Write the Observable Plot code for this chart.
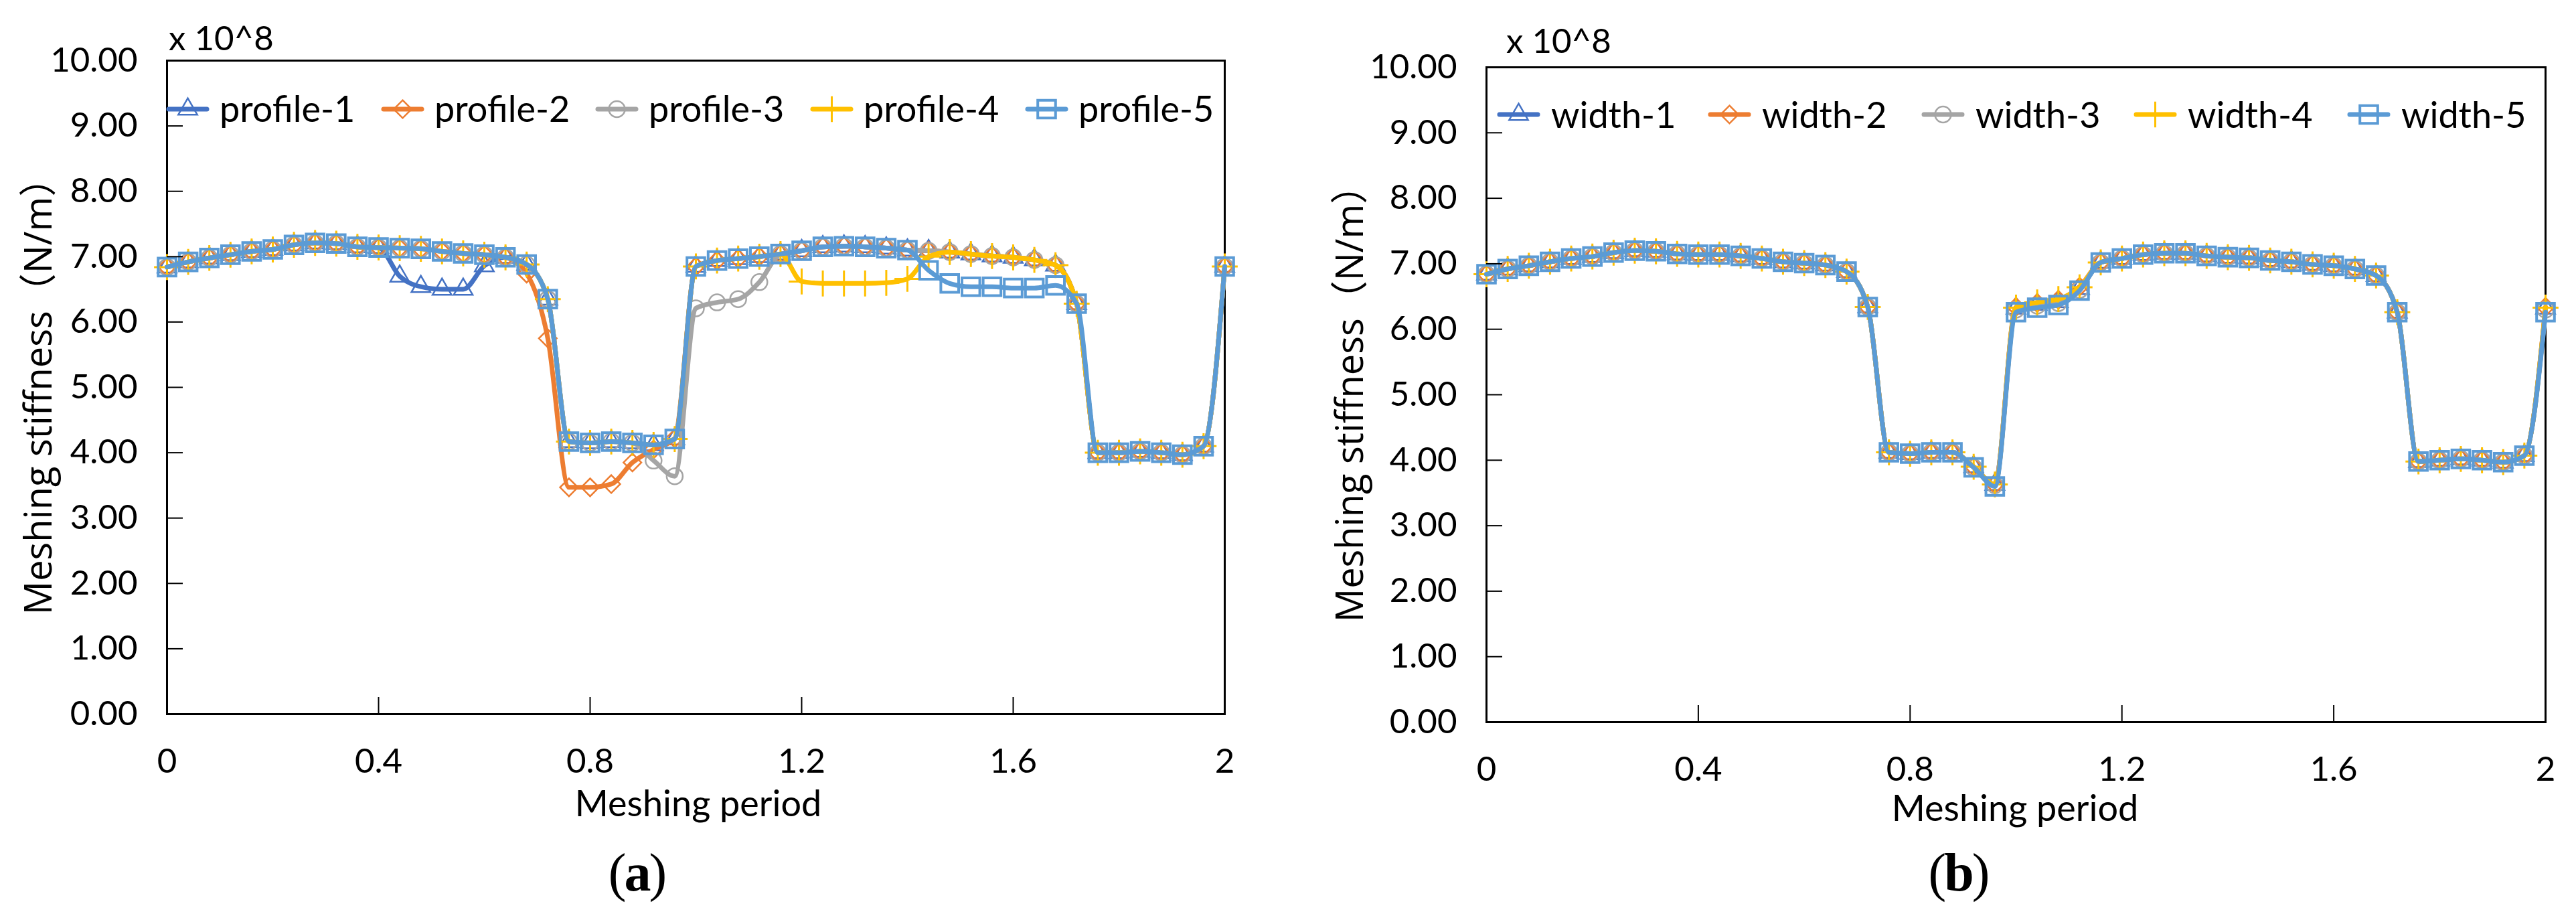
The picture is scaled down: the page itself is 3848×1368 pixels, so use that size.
<!DOCTYPE html>
<html>
<head>
<meta charset="utf-8">
<script src="https://cdn.jsdelivr.net/npm/d3@7"></script>
<script src="https://cdn.jsdelivr.net/npm/@observablehq/plot@0.6"></script>
<style>
html, body { margin: 0; padding: 0; background: #fff; }
#page { position: relative; width: 3848px; height: 1368px; overflow: hidden; background: #fff; }
.t { position: absolute; white-space: nowrap; line-height: 1; color: #000; }
</style>
</head>
<body>
<div id="page"></div>
<script>
// ---------------- data ----------------
const period = [0, 0.04, 0.08, 0.12, 0.16, 0.2, 0.24, 0.28, 0.32, 0.36,
  0.4, 0.44, 0.48, 0.52, 0.56, 0.6, 0.64, 0.68, 0.72, 0.76,
  0.8, 0.84, 0.88, 0.92, 0.96, 1.0, 1.04, 1.08, 1.12, 1.16,
  1.2, 1.24, 1.28, 1.32, 1.36, 1.4, 1.44, 1.48, 1.52, 1.56,
  1.6, 1.64, 1.68, 1.72, 1.76, 1.8, 1.84, 1.88, 1.92, 1.96, 2.0];

const profile1 = [6.84, 6.92, 6.98, 7.03, 7.08, 7.11, 7.18, 7.21, 7.20, 7.15,
  7.14, 6.70, 6.54, 6.50, 6.50, 6.86, 6.99, 6.88, 6.35, 4.17,
  4.15, 4.17, 4.15, 4.12, 4.21, 6.85, 6.94, 6.97, 7.00, 7.04,
  7.09, 7.15, 7.16, 7.15, 7.13, 7.10, 7.09, 7.07, 7.04, 7.01,
  6.99, 6.95, 6.87, 6.28, 4.00, 4.00, 4.02, 4.00, 3.97, 4.10, 6.85];
const profile2 = [6.84, 6.92, 6.98, 7.03, 7.08, 7.11, 7.18, 7.21, 7.20, 7.15,
  7.14, 7.13, 7.12, 7.08, 7.05, 7.03, 6.99, 6.74, 5.75, 3.47,
  3.47, 3.52, 3.85, 4.05, 4.22, 6.85, 6.94, 6.97, 7.00, 7.04,
  7.09, 7.15, 7.16, 7.15, 7.13, 7.10, 7.09, 7.07, 7.04, 7.01,
  6.99, 6.95, 6.87, 6.28, 4.00, 4.00, 4.02, 4.00, 3.97, 4.10, 6.85];
const profile3 = [6.84, 6.92, 6.98, 7.03, 7.08, 7.11, 7.18, 7.21, 7.20, 7.15,
  7.14, 7.13, 7.12, 7.08, 7.05, 7.03, 6.99, 6.88, 6.35, 4.17,
  4.15, 4.17, 4.15, 3.88, 3.64, 6.21, 6.30, 6.35, 6.61, 7.04,
  7.09, 7.15, 7.16, 7.15, 7.13, 7.10, 7.09, 7.07, 7.04, 7.01,
  6.99, 6.95, 6.87, 6.28, 4.00, 4.00, 4.02, 4.00, 3.97, 4.10, 6.85];
const profile4 = [6.84, 6.92, 6.98, 7.03, 7.08, 7.11, 7.18, 7.21, 7.20, 7.15,
  7.14, 7.13, 7.12, 7.08, 7.05, 7.03, 6.99, 6.88, 6.35, 4.17,
  4.15, 4.17, 4.15, 4.12, 4.21, 6.85, 6.94, 6.97, 7.00, 7.04,
  6.62, 6.59, 6.59, 6.59, 6.60, 6.66, 7.00, 7.07, 7.04, 7.01,
  6.99, 6.95, 6.87, 6.28, 4.00, 4.00, 4.02, 4.00, 3.97, 4.10, 6.85];
const profile5 = [6.84, 6.92, 6.98, 7.03, 7.08, 7.11, 7.18, 7.21, 7.20, 7.15,
  7.14, 7.13, 7.12, 7.08, 7.05, 7.03, 6.99, 6.88, 6.35, 4.17,
  4.15, 4.17, 4.15, 4.12, 4.21, 6.85, 6.94, 6.97, 7.00, 7.04,
  7.09, 7.15, 7.16, 7.15, 7.13, 7.10, 6.79, 6.59, 6.54, 6.54,
  6.52, 6.52, 6.56, 6.28, 4.00, 4.00, 4.02, 4.00, 3.97, 4.10, 6.85];

const width1 = [6.84, 6.92, 6.97, 7.03, 7.08, 7.11, 7.17, 7.20, 7.19, 7.15,
  7.14, 7.14, 7.12, 7.08, 7.03, 7.01, 6.98, 6.88, 6.34, 4.12,
  4.10, 4.12, 4.12, 3.90, 3.63, 6.32, 6.38, 6.42, 6.62, 7.02,
  7.08, 7.14, 7.16, 7.16, 7.12, 7.10, 7.09, 7.05, 7.03, 6.99,
  6.97, 6.92, 6.82, 6.26, 3.98, 4.00, 4.02, 4.00, 3.97, 4.07, 6.32];
const width2 = [6.84, 6.92, 6.97, 7.03, 7.08, 7.11, 7.17, 7.20, 7.19, 7.15,
  7.14, 7.14, 7.12, 7.08, 7.03, 7.01, 6.98, 6.88, 6.34, 4.12,
  4.10, 4.12, 4.12, 3.90, 3.63, 6.34, 6.40, 6.45, 6.65, 7.02,
  7.08, 7.14, 7.16, 7.16, 7.12, 7.10, 7.09, 7.05, 7.03, 6.99,
  6.97, 6.92, 6.82, 6.26, 3.98, 4.00, 4.02, 4.00, 3.97, 4.07, 6.34];
const width3 = [6.84, 6.92, 6.97, 7.03, 7.08, 7.11, 7.17, 7.20, 7.19, 7.15,
  7.14, 7.14, 7.12, 7.08, 7.03, 7.01, 6.98, 6.88, 6.34, 4.12,
  4.10, 4.12, 4.12, 3.89, 3.62, 6.30, 6.36, 6.40, 6.60, 7.02,
  7.08, 7.14, 7.16, 7.16, 7.12, 7.10, 7.09, 7.05, 7.03, 6.99,
  6.97, 6.92, 6.82, 6.26, 3.98, 4.00, 4.02, 4.00, 3.97, 4.07, 6.30];
const width4 = [6.84, 6.92, 6.97, 7.03, 7.08, 7.11, 7.17, 7.20, 7.19, 7.15,
  7.14, 7.14, 7.12, 7.08, 7.03, 7.01, 6.98, 6.88, 6.34, 4.12,
  4.10, 4.12, 4.12, 3.90, 3.63, 6.33, 6.41, 6.46, 6.64, 7.02,
  7.08, 7.14, 7.16, 7.16, 7.12, 7.10, 7.09, 7.05, 7.03, 6.99,
  6.97, 6.92, 6.82, 6.26, 3.98, 4.00, 4.02, 4.00, 3.97, 4.07, 6.33];
const width5 = [6.84, 6.92, 6.97, 7.03, 7.08, 7.11, 7.17, 7.20, 7.19, 7.15,
  7.14, 7.14, 7.12, 7.08, 7.03, 7.01, 6.98, 6.88, 6.34, 4.12,
  4.10, 4.12, 4.12, 3.89, 3.60, 6.26, 6.33, 6.37, 6.59, 7.02,
  7.08, 7.14, 7.16, 7.16, 7.12, 7.10, 7.09, 7.05, 7.03, 6.99,
  6.97, 6.92, 6.82, 6.26, 3.98, 4.00, 4.02, 4.00, 3.97, 4.07, 6.26];

const profileNames = ["profile-1", "profile-2", "profile-3", "profile-4", "profile-5"];
const widthNames = ["width-1", "width-2", "width-3", "width-4", "width-5"];

const yTicks = [0, 1, 2, 3, 4, 5, 6, 7, 8, 9, 10];
const yTickLabels = ["0.00", "1.00", "2.00", "3.00", "4.00", "5.00", "6.00", "7.00", "8.00", "9.00", "10.00"];
const yInnerTicks = [1, 2, 3, 4, 5, 6, 7, 8, 9];
const xTicks = [0, 0.4, 0.8, 1.2, 1.6, 2];
const xTickLabels = ["0", "0.4", "0.8", "1.2", "1.6", "2"];
const xInnerTicks = [0.4, 0.8, 1.2, 1.6];

const yLabel = "Meshing stiffness（N/m）";
const xLabel = "Meshing period";
const scaleNote = "x 10^8";

// ---------------- styles ----------------
const seriesStyle = [
  {color: "#4472C4", symbol: "triangle", r: 10.5, sw: 2.5},
  {color: "#ED7D31", symbol: "diamond2", r: 12, sw: 2.5},
  {color: "#A5A5A5", symbol: "circle", r: 12, sw: 2.5},
  {color: "#FFC000", symbol: "plus", r: 12.5, sw: 3},
  {color: "#5B9BD5", symbol: "square", r: 15, sw: 4}
];
const d3Symbols = {triangle: d3.symbolTriangle, diamond2: d3.symbolDiamond2, circle: d3.symbolCircle, plus: d3.symbolPlus, square: d3.symbolSquare};

const page = document.getElementById("page");

function makePanel(valuesList, cfg) {
  const marks = [Plot.frame({stroke: "black", strokeWidth: 3})];
  valuesList.forEach((vals, k) => {
    const st = seriesStyle[k];
    const rows = period.map((x, i) => ({x, y: vals[i]}));
    marks.push(Plot.line(rows, {x: "x", y: "y", stroke: st.color, strokeWidth: 7, curve: "monotone-x", strokeLinejoin: "round"}));
    marks.push(Plot.dot(rows, {x: "x", y: "y", symbol: st.symbol, r: st.r, stroke: st.color, strokeWidth: st.sw, fill: "none"}));
  });
  marks.push(Plot.axisY({ticks: yTicks, tickSize: 0, tickPadding: 44, fontSize: 51,
    tickFormat: d => yTickLabels[yTicks.indexOf(d)], label: null}));
  marks.push(Plot.axisY({ticks: yInnerTicks, tickSize: 24, dx: 24, strokeWidth: 2,
    tickFormat: () => "", label: null}));
  marks.push(Plot.axisX({ticks: xTicks, tickSize: 0, tickPadding: 51, fontSize: 51,
    tickFormat: d => xTickLabels[xTicks.indexOf(d)], label: null}));
  marks.push(Plot.axisX({ticks: xInnerTicks, tickSize: 25, dy: -25, strokeWidth: 2,
    tickFormat: () => "", label: null}));
  const svg = Plot.plot({
    width: cfg.width, height: cfg.height,
    marginLeft: cfg.ml, marginRight: cfg.mr, marginTop: cfg.mt, marginBottom: cfg.mb,
    x: {domain: [0, 2], label: null},
    y: {domain: [0, 10], label: null},
    style: {fontFamily: "Lato, sans-serif", color: "black", background: "transparent", overflow: "visible"},
    marks
  });
  svg.style.position = "absolute";
  svg.style.left = cfg.left + "px";
  svg.style.top = "0px";
  page.appendChild(svg);
}

function addText(str, o) {
  const d = document.createElement("div");
  d.className = "t";
  d.textContent = str;
  d.style.fontFamily = o.family || "Lato, sans-serif";
  d.style.fontSize = o.size + "px";
  if (o.weight) d.style.fontWeight = o.weight;
  const asc = o.asc || 0.887;
  d.style.top = (o.baseline - asc * o.size) + "px";
  d.style.left = o.left + "px";
  if (o.center) d.style.transform = "translateX(-50%)";
  page.appendChild(d);
  return d;
}

function addYLabel(cx, cy) {
  const d = document.createElement("div");
  d.className = "t";
  d.textContent = yLabel;
  d.style.fontFamily = "'Open Sans', 'Noto Sans CJK SC', sans-serif";
  d.style.fontSize = "56px";
  d.style.left = cx + "px";
  d.style.top = cy + "px";
  d.style.transform = "translate(-50%, -50%) rotate(-90deg)";
  page.appendChild(d);
}

function addCaption(letter, cx, baseline) {
  const d = document.createElement("div");
  d.className = "t";
  d.style.fontFamily = "'Liberation Serif', 'Times New Roman', serif";
  d.style.fontSize = "80px";
  d.style.top = (baseline - 0.838 * 80) + "px";
  d.style.left = cx + "px";
  d.style.transform = "translateX(-50%)";
  d.style.letterSpacing = "-3px";
  d.innerHTML = "(<b>" + letter + "</b>)";
  page.appendChild(d);
}

function addLegend(names, starts, textOffset, lineY, baseline) {
  names.forEach((name, k) => {
    const st = seriesStyle[k];
    const ns = "http://www.w3.org/2000/svg";
    const s = document.createElementNS(ns, "svg");
    s.setAttribute("width", 58); s.setAttribute("height", 44);
    s.style.position = "absolute";
    s.style.left = starts[k] + "px";
    s.style.top = (lineY - 22) + "px";
    s.style.overflow = "visible";
    const ln = document.createElementNS(ns, "line");
    ln.setAttribute("x1", 0); ln.setAttribute("x2", 57); ln.setAttribute("y1", 22); ln.setAttribute("y2", 22);
    ln.setAttribute("stroke", st.color); ln.setAttribute("stroke-width", 7); ln.setAttribute("stroke-linecap", "round");
    s.appendChild(ln);
    const p = document.createElementNS(ns, "path");
    p.setAttribute("d", d3.symbol(d3Symbols[st.symbol], Math.PI * st.r * st.r)());
    p.setAttribute("transform", "translate(28.5,22)");
    p.setAttribute("fill", "none"); p.setAttribute("stroke", st.color); p.setAttribute("stroke-width", st.sw);
    s.appendChild(p);
    page.appendChild(s);
    addText(name, {left: starts[k] + textOffset, baseline, size: 54});
  });
}

// ---------------- panel (a) ----------------
makePanel([profile1, profile2, profile3, profile4, profile5],
  {left: 0, width: 1924, height: 1170, ml: 249, mr: 95, mt: 90, mb: 104});
addText(scaleNote, {left: 252, baseline: 75, size: 51});
addYLabel(55, 578);
addText(xLabel, {left: 1043, baseline: 1220, size: 54, center: true});
addCaption("a", 951, 1330);
addLegend(profileNames, [252, 573, 893, 1214, 1535], 76, 163, 183);

// ---------------- panel (b) ----------------
makePanel([width1, width2, width3, width4, width5],
  {left: 1924, width: 1924, height: 1180, ml: 296, mr: 46, mt: 100, mb: 102});
addText(scaleNote, {left: 2250, baseline: 79, size: 51});
addYLabel(2014, 589);
addText(xLabel, {left: 3010, baseline: 1227, size: 54, center: true});
addCaption("b", 2925, 1330);
addLegend(widthNames, [2240, 2555, 2874, 3191, 3510], 77, 171, 192);
</script>
</body>
</html>
